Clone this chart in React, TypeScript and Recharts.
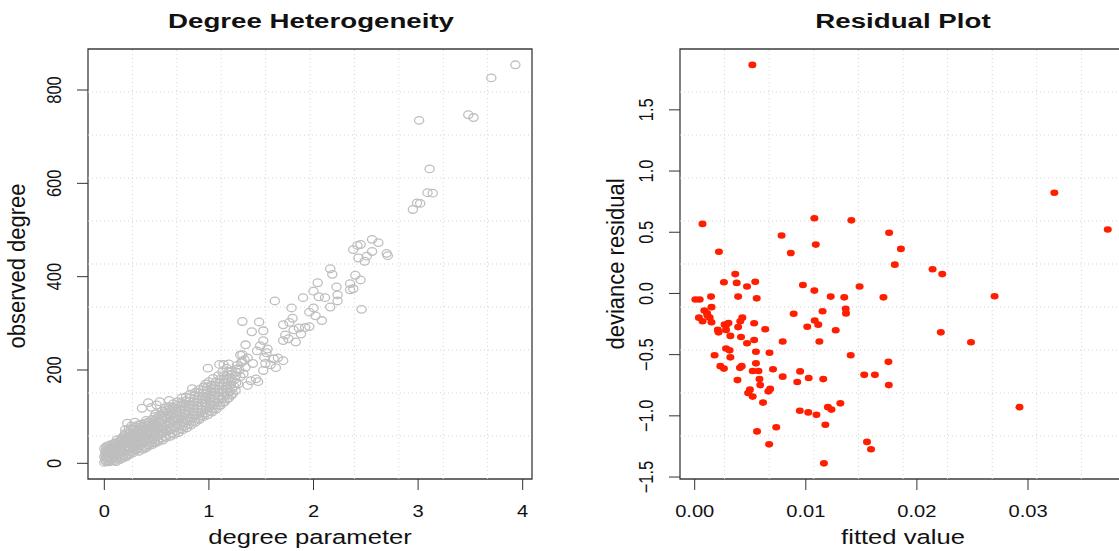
import React from "react";
import {
  ScatterChart,
  Scatter,
  XAxis,
  YAxis,
  ReferenceLine,
  ReferenceArea,
} from "recharts";

// left panel: degree parameter vs observed degree
const degreeTicksX = [0, 1, 2, 3, 4];
const degreeTicksY = [0, 200, 400, 600, 800];

// dense part of the cloud near the origin
const degreeCore: [number, number][] = [
  [0.0, 2], [0.01, 8], [0.0, 14], [0.02, 20], [0.01, 26], [0.0, 32], [0.02, 4], [0.03, 11], [0.01, 17], [0.03, 29], [0.02, 36],
  [0.05, 3], [0.05, 12], [0.06, 21], [0.05, 30], [0.06, 40], [0.07, 7], [0.07, 17], [0.08, 26], [0.07, 35],
  [0.09, 5], [0.1, 14], [0.11, 24], [0.1, 34], [0.11, 44], [0.12, 9], [0.13, 19], [0.12, 30], [0.13, 40], [0.12, 50],
  [0.15, 8], [0.16, 18], [0.15, 28], [0.16, 38], [0.15, 48], [0.17, 55], [0.18, 12], [0.18, 24], [0.19, 34], [0.18, 45], [0.19, 60],
  [0.21, 14], [0.22, 26], [0.21, 37], [0.22, 49], [0.23, 62], [0.2, 72], [0.22, 86], [0.24, 20], [0.25, 32], [0.24, 44], [0.25, 56], [0.24, 68], [0.26, 80],
  [0.27, 22], [0.28, 35], [0.27, 48], [0.29, 60], [0.28, 72], [0.3, 28], [0.31, 40], [0.3, 53], [0.31, 66], [0.3, 78], [0.29, 88],
  [0.33, 26], [0.34, 38], [0.33, 50], [0.35, 62], [0.34, 74], [0.35, 84], [0.37, 30], [0.37, 44], [0.38, 56], [0.37, 68], [0.38, 80], [0.36, 118],
  [0.4, 33], [0.41, 45], [0.4, 58], [0.42, 70], [0.41, 82], [0.4, 92], [0.43, 38], [0.44, 50], [0.43, 63], [0.44, 76], [0.43, 88], [0.42, 130], [0.45, 120],
  [0.46, 40], [0.47, 52], [0.46, 66], [0.48, 78], [0.47, 90], [0.48, 100], [0.49, 44], [0.5, 57], [0.49, 70], [0.5, 83], [0.51, 96], [0.5, 125], [0.53, 132],
  [0.52, 47], [0.53, 60], [0.54, 74], [0.53, 88], [0.54, 104], [0.56, 50], [0.56, 64], [0.57, 78], [0.56, 92], [0.57, 108], [0.58, 118],
  [0.59, 55], [0.6, 68], [0.61, 82], [0.6, 96], [0.61, 110], [0.62, 122], [0.63, 58], [0.64, 72], [0.63, 86], [0.64, 100], [0.65, 114], [0.66, 128], [0.62, 135],
  [0.67, 62], [0.68, 76], [0.67, 90], [0.69, 104], [0.68, 118], [0.7, 132], [0.71, 66], [0.72, 80], [0.71, 94], [0.72, 108], [0.73, 122], [0.74, 140],
  [0.75, 72], [0.76, 86], [0.75, 100], [0.77, 114], [0.76, 128], [0.78, 142], [0.79, 76], [0.8, 90], [0.79, 104], [0.8, 118], [0.81, 132], [0.82, 148], [0.84, 160],
  [0.83, 82], [0.84, 96], [0.85, 110], [0.84, 124], [0.86, 138], [0.87, 152], [0.87, 88], [0.88, 102], [0.89, 116], [0.88, 130], [0.9, 144], [0.9, 158],
  [0.91, 94], [0.92, 108], [0.93, 122], [0.92, 136], [0.94, 150], [0.95, 164], [0.95, 100], [0.96, 114], [0.97, 128], [0.96, 142], [0.98, 156], [0.97, 170],
  [0.99, 104], [1.0, 118], [1.01, 132], [1.0, 146], [1.02, 160], [1.0, 175], [1.03, 110], [1.04, 124], [1.05, 138], [1.04, 152], [1.06, 166], [1.04, 182], [0.99, 204],
  [1.07, 116], [1.08, 130], [1.09, 144], [1.08, 158], [1.1, 172], [1.09, 188], [1.11, 124], [1.12, 138], [1.13, 152], [1.12, 166], [1.14, 180], [1.13, 196], [1.1, 212],
  [1.15, 132], [1.16, 146], [1.17, 160], [1.16, 174], [1.18, 190], [1.17, 204], [1.19, 140], [1.2, 154], [1.21, 168], [1.2, 184], [1.22, 198], [1.14, 212],
  [1.23, 150], [1.24, 165], [1.25, 180], [1.26, 196], [1.27, 210], [1.28, 170], [1.3, 186], [1.29, 200], [1.31, 216], [1.3, 232], [1.33, 192], [1.35, 206], [1.34, 222],
];

// more points between the ones above, the band is solid grey in the reference
const degreeFill: [number, number][] = [
  [0.015, 5], [0.02, 12], [0.015, 23], [0.025, 33], [0.04, 6], [0.035, 19], [0.045, 26], [0.04, 38],
  [0.065, 10], [0.07, 25], [0.06, 33], [0.085, 14], [0.09, 22], [0.085, 31], [0.09, 42],
  [0.115, 4], [0.105, 19], [0.115, 29], [0.11, 38], [0.14, 13], [0.14, 25], [0.145, 35], [0.14, 46],
  [0.165, 12], [0.17, 23], [0.165, 33], [0.17, 43], [0.165, 52], [0.195, 17], [0.2, 29], [0.195, 40], [0.2, 52], [0.2, 64],
  [0.225, 18], [0.23, 31], [0.225, 43], [0.23, 56], [0.235, 74], [0.26, 25], [0.265, 38], [0.26, 50], [0.265, 62], [0.27, 74],
  [0.285, 28], [0.29, 41], [0.285, 54], [0.295, 66], [0.32, 32], [0.32, 45], [0.325, 57], [0.32, 70], [0.325, 82],
  [0.35, 32], [0.355, 44], [0.35, 56], [0.355, 68], [0.36, 78], [0.385, 36], [0.39, 50], [0.385, 62], [0.39, 74], [0.39, 86],
  [0.415, 39], [0.42, 52], [0.415, 64], [0.42, 76], [0.42, 88], [0.45, 44], [0.455, 57], [0.45, 70], [0.455, 82], [0.46, 94],
  [0.475, 46], [0.48, 60], [0.475, 72], [0.485, 86], [0.49, 106], [0.51, 50], [0.515, 64], [0.51, 77], [0.515, 90], [0.52, 102],
  [0.545, 54], [0.545, 68], [0.55, 82], [0.545, 98], [0.555, 112], [0.58, 58], [0.585, 72], [0.58, 86], [0.585, 100], [0.59, 114],
  [0.615, 62], [0.62, 76], [0.615, 90], [0.62, 104], [0.625, 116], [0.65, 64], [0.655, 80], [0.65, 94], [0.655, 108], [0.66, 120],
  [0.69, 70], [0.695, 84], [0.69, 98], [0.695, 112], [0.7, 124], [0.73, 74], [0.735, 88], [0.73, 102], [0.735, 116], [0.74, 130],
  [0.77, 80], [0.775, 94], [0.77, 108], [0.775, 122], [0.78, 134], [0.81, 84], [0.815, 98], [0.81, 112], [0.815, 126], [0.82, 140],
  [0.855, 90], [0.86, 104], [0.855, 118], [0.86, 132], [0.865, 146], [0.895, 96], [0.9, 110], [0.895, 124], [0.9, 138], [0.905, 152],
  [0.935, 102], [0.94, 116], [0.935, 130], [0.94, 144], [0.945, 158], [0.975, 108], [0.98, 122], [0.975, 136], [0.98, 150], [0.985, 164],
  [1.015, 112], [1.02, 126], [1.015, 140], [1.02, 154], [1.025, 168], [1.055, 118], [1.06, 132], [1.055, 146], [1.06, 160], [1.065, 174],
  [1.095, 124], [1.1, 138], [1.095, 152], [1.1, 166], [1.105, 180], [1.135, 130], [1.14, 144], [1.135, 158], [1.14, 172], [1.145, 188],
  [1.175, 138], [1.18, 152], [1.175, 166], [1.18, 180], [1.19, 196], [1.215, 146], [1.22, 160], [1.215, 176], [1.22, 190],
  [1.255, 156], [1.26, 172], [1.26, 188], [1.27, 202],
];

// sparser points further out
const degreeTail: [number, number][] = [
  [1.37, 167], [1.4, 177], [1.45, 181], [1.47, 175], [1.32, 218], [1.32, 233], [1.37, 226], [1.42, 214], [1.19, 213],
  [1.52, 199], [1.54, 214], [1.59, 211], [1.62, 224], [1.66, 226], [1.71, 220], [1.64, 205], [1.55, 237], [1.53, 227],
  [1.46, 241], [1.49, 252], [1.35, 254], [1.56, 245], [1.52, 263],
  [1.32, 304], [1.48, 303], [1.41, 282], [1.52, 284], [1.71, 297], [1.77, 302], [1.81, 286], [1.86, 290], [1.92, 291],
  [1.73, 275], [1.71, 263], [1.83, 260], [1.76, 267], [1.88, 277], [1.63, 348], [1.79, 333], [1.8, 311],
  [2.04, 387], [2.0, 369], [2.22, 378], [2.23, 361], [2.23, 348], [2.11, 355], [1.9, 355], [2.05, 357], [2.0, 333],
  [2.16, 335], [1.96, 324], [2.02, 316], [2.08, 306], [1.96, 293],
  [2.16, 417], [2.18, 405], [2.4, 403], [2.35, 385], [2.45, 393], [2.35, 372], [2.38, 374], [2.46, 330],
  [2.56, 480], [2.62, 473], [2.45, 469], [2.42, 467], [2.38, 458], [2.56, 454], [2.51, 444], [2.43, 440], [2.49, 433],
  [2.7, 450], [2.71, 445],
  [2.95, 544], [2.99, 558], [3.02, 557], [3.09, 580], [3.14, 579], [3.11, 631], [3.01, 735],
  [3.48, 747], [3.53, 741], [3.7, 826], [3.93, 854],
];

// right panel: fitted value vs deviance residual
const fittedTicks = [0, 0.01, 0.02, 0.03];
const residualTicks = [-1.5, -1, -0.5, 0, 0.5, 1, 1.5];

const residualPoints: [number, number][] = [
  [0.00519, 1.867], [0.0007, 0.568], [0.00218, 0.341], [0.00782, 0.473], [0.00865, 0.33], [0.01077, 0.614],
  [0.0109, 0.399], [0.0141, 0.597], [0.0175, 0.496], [0.01856, 0.364], [0.01801, 0.235], [0.02141, 0.198],
  [0.02228, 0.158], [0.03237, 0.823], [0.03718, 0.522], [0.02699, -0.023], [0.02215, -0.318], [0.02487, -0.399],
  [0.02923, -0.929], [0.01699, -0.032], [0.01484, 0.057], [0.01346, -0.032], [0.01359, -0.126], [0.01362, -0.163],
  [0.01224, -0.026], [0.01151, -0.146], [0.01077, 0.023], [0.00974, 0.069], [0.00891, -0.166], [0.0108, -0.221],
  [0.01112, -0.255], [0.01013, -0.272], [0.01269, -0.301], [0.01122, -0.393], [0.01404, -0.505], [0.00792, -0.393],
  [0.00635, -0.293], [0.01744, -0.559], [0.01747, -0.749], [0.01526, -0.665], [0.01622, -0.665], [0.01157, -0.7],
  [0.01026, -0.691], [0.00923, -0.723], [0.00949, -0.637], [0.00792, -0.68], [0.00705, -0.619], [0.00946, -0.958],
  [0.01022, -0.972], [0.01096, -0.992], [0.01199, -0.929], [0.01231, -0.949], [0.01311, -0.898], [0.01176, -1.073],
  [0.00734, -1.093], [0.00561, -1.127], [0.0067, -1.233], [0.01163, -1.388], [0.01551, -1.213], [0.01587, -1.273],
  [0.00615, -0.892], [0.00679, -0.78], [0.00663, -0.8], [0.0059, -0.749], [0.00583, -0.7], [0.00574, -0.634],
  [0.00522, -0.634], [0.00551, -0.571], [0.00551, -0.476], [0.00673, -0.485], [0.00535, -0.381], [0.00535, -0.244],
  [0.00558, -0.04], [0.00545, 0.095], [0.00471, 0.057], [0.00365, 0.158], [0.00378, 0.086], [0.00391, -0.026],
  [0.00429, -0.198], [0.0041, -0.227], [0.00391, -0.275], [0.00417, -0.356], [0.00471, -0.407], [0.00304, -0.241],
  [0.00282, -0.26], [0.00263, 0.092], [0.00147, -0.026], [0.00151, -0.112], [0.00045, -0.049], [0.00006, -0.049],
  [0.00038, -0.198], [0.00071, -0.227], [0.00087, -0.14], [0.00112, -0.163], [0.00135, -0.198], [0.00151, -0.235],
  [0.00208, -0.298], [0.00215, -0.318], [0.00269, -0.255], [0.00282, -0.298], [0.00321, -0.347], [0.00282, -0.45],
  [0.00314, -0.465], [0.00321, -0.522], [0.00179, -0.505], [0.00231, -0.594], [0.00263, -0.614], [0.00407, -0.608],
  [0.00423, -0.594], [0.00385, -0.708], [0.00497, -0.786], [0.00481, -0.814], [0.00522, -0.843], [0.00115, -0.18],
];

const DEG_X: [number, number] = [-0.156, 4.089];
const DEG_Y: [number, number] = [-33.6, 887.9];
const FIT_X: [number, number] = [-0.001323, 0.03882];
const RES_Y: [number, number] = [-1.516, 1.997];

const FONT = "'Liberation Sans', Arial, Helvetica, sans-serif";

// the reference is stretched sideways, so text gets a horizontal scale
const Stretch = ({ x, y, sx = 1.25, rotate = false, size = 16, bold = false, children }: any) => (
  <g transform={`translate(${x},${y}) scale(${sx},1)${rotate ? " rotate(-90)" : ""}`}>
    <text x={0} y={0} textAnchor="middle" fontSize={size} fontWeight={bold ? "bold" : "normal"} fontFamily={FONT} fill="#111">
      {children}
    </text>
  </g>
);

const fmt = (v: number, digits: number) => v.toFixed(digits).replace("-", "\u2212");

const XTick = (props: any) => {
  const { x, y, payload, digits } = props;
  return (
    <Stretch x={x} y={y + 26.5} sx={1.22} size={16.5}>
      {fmt(payload.value, digits)}
    </Stretch>
  );
};

const YTick = (props: any) => {
  const { x, y, payload, digits } = props;
  return (
    <Stretch x={x - 16.5} y={y} sx={1.22} size={16.5} rotate>
      {fmt(payload.value, digits)}
    </Stretch>
  );
};

const OpenRing = (props: any) => (
  <ellipse cx={props.cx} cy={props.cy} rx={4.6} ry={3.8} fill="none" stroke="#bebebe" strokeWidth={1.3} />
);

const RedDot = (props: any) => (
  <ellipse cx={props.cx} cy={props.cy} rx={4} ry={3.3} fill="#ff1e00" />
);

// R's grid() splits the plot region into 10 equal parts
const gridSteps = (d: [number, number]) =>
  [1, 2, 3, 4, 5, 6, 7, 8, 9].map((k) => d[0] + (k * (d[1] - d[0])) / 10);

const GRID = { stroke: "#d3d3d3", strokeDasharray: "1 3", strokeWidth: 1 };

const toXY = (pts: [number, number][]) => pts.map(([x, y]) => ({ x, y }));

const App = () => {
  return (
    <div style={{ position: "absolute", left: 0, top: 0, width: 1119, height: 551, overflow: "hidden", background: "#fff" }}>
      <div style={{ position: "absolute", left: 0, top: 0 }}>
        <ScatterChart width={560} height={551} margin={{ top: 49, right: 28, bottom: 0, left: 0 }}>
          <XAxis
            type="number"
            dataKey="x"
            domain={DEG_X}
            ticks={degreeTicksX}
            allowDataOverflow
            interval={0}
            height={72}
            tickSize={11}
            tickMargin={0}
            axisLine={false}
            tickLine={{ stroke: "#333" }}
            tick={<XTick digits={0} />}
          />
          <YAxis
            type="number"
            dataKey="y"
            domain={DEG_Y}
            ticks={degreeTicksY}
            allowDataOverflow
            interval={0}
            width={88}
            tickSize={11}
            tickMargin={0}
            axisLine={false}
            tickLine={{ stroke: "#333" }}
            tick={<YTick digits={0} />}
          />
          {gridSteps(DEG_X).map((v) => (
            <ReferenceLine key={`gx${v}`} x={v} {...GRID} />
          ))}
          {gridSteps(DEG_Y).map((v) => (
            <ReferenceLine key={`gy${v}`} y={v} {...GRID} />
          ))}
          <ReferenceArea x1={DEG_X[0]} x2={DEG_X[1]} y1={DEG_Y[0]} y2={DEG_Y[1]} fill="none" fillOpacity={0} stroke="#3c3c3c" strokeWidth={1.3} />
          <Scatter data={toXY(degreeCore)} shape={OpenRing} isAnimationActive={false} />
          <Scatter data={toXY(degreeFill)} shape={OpenRing} isAnimationActive={false} />
          <Scatter data={toXY(degreeTail)} shape={OpenRing} isAnimationActive={false} />
        </ScatterChart>
      </div>

      <div style={{ position: "absolute", left: 560, top: 0 }}>
        <ScatterChart width={580} height={551} margin={{ top: 49, right: 14, bottom: 0, left: 0 }}>
          <XAxis
            type="number"
            dataKey="x"
            domain={FIT_X}
            ticks={fittedTicks}
            allowDataOverflow
            interval={0}
            height={72}
            tickSize={11}
            tickMargin={0}
            axisLine={false}
            tickLine={{ stroke: "#333" }}
            tick={<XTick digits={2} />}
          />
          <YAxis
            type="number"
            dataKey="y"
            domain={RES_Y}
            ticks={residualTicks}
            allowDataOverflow
            interval={0}
            width={120}
            tickSize={11}
            tickMargin={0}
            axisLine={false}
            tickLine={{ stroke: "#333" }}
            tick={<YTick digits={1} />}
          />
          {gridSteps(FIT_X).map((v) => (
            <ReferenceLine key={`fx${v}`} x={v} {...GRID} />
          ))}
          {gridSteps(RES_Y).map((v) => (
            <ReferenceLine key={`fy${v}`} y={v} {...GRID} />
          ))}
          <ReferenceArea x1={FIT_X[0]} x2={FIT_X[1]} y1={RES_Y[0]} y2={RES_Y[1]} fill="none" fillOpacity={0} stroke="#3c3c3c" strokeWidth={1.3} />
          <Scatter data={toXY(residualPoints)} shape={RedDot} isAnimationActive={false} />
        </ScatterChart>
      </div>

      <svg width={1119} height={551} style={{ position: "absolute", left: 0, top: 0, pointerEvents: "none" }}>
        <Stretch x={311} y={28} sx={1.35} size={20.5} bold>Degree Heterogeneity</Stretch>
        <Stretch x={903} y={28} sx={1.35} size={20.5} bold>Residual Plot</Stretch>
        <Stretch x={310} y={544} sx={1.25} size={20.5}>degree parameter</Stretch>
        <Stretch x={903} y={544} sx={1.25} size={20.5}>fitted value</Stretch>
        <Stretch x={25} y={266} sx={1.1} size={22} rotate>observed degree</Stretch>
        <Stretch x={624} y={264} sx={1.1} size={22} rotate>deviance residual</Stretch>
      </svg>
    </div>
  );
};

export default App;
